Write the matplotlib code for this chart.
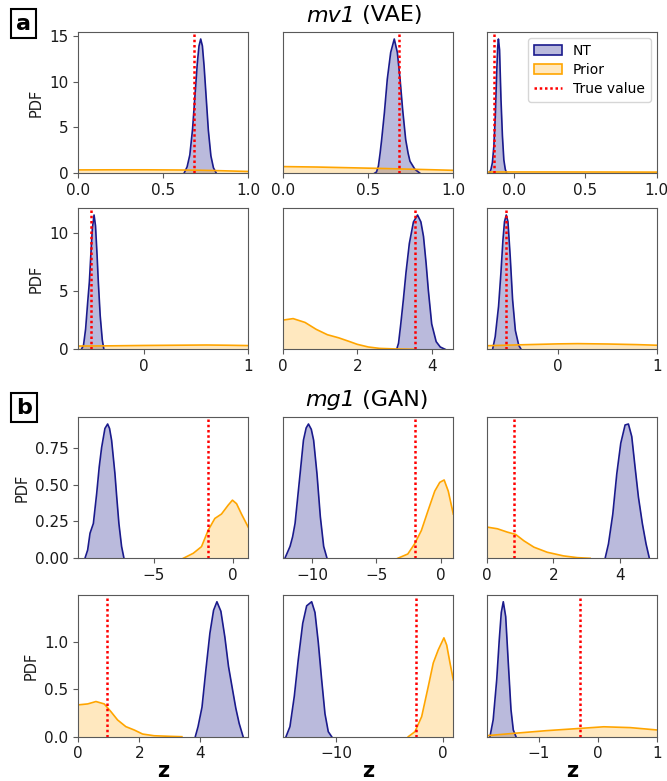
import matplotlib
matplotlib.use("Agg")
import matplotlib.pyplot as plt
from matplotlib.patches import Patch
from matplotlib.lines import Line2D

# ---------------------------------------------------------------------------
# Posterior (NT) and prior densities of the latent variables z
# Panels are ordered row by row: top row z1..z3, bottom row z4..z6
# ---------------------------------------------------------------------------

# mv1 (VAE)
VAE_NT_Z = [
    [0.622, 0.64, 0.656, 0.672, 0.688, 0.70, 0.71, 0.72, 0.73, 0.74, 0.75, 0.765, 0.78, 0.795, 0.812],
    [0.538, 0.55, 0.561, 0.571, 0.58, 0.596, 0.613, 0.633, 0.654, 0.672, 0.688, 0.703, 0.721, 0.735, 0.746, 0.775, 0.805],
    [-0.172, -0.16, -0.15, -0.14, -0.13, -0.12, -0.113, -0.108, -0.10, -0.09, -0.08, -0.07, -0.06, -0.05],
    [-0.60, -0.58, -0.56, -0.54, -0.524, -0.51, -0.495, -0.479, -0.465, -0.45, -0.438, -0.42, -0.40, -0.385],
    [3.06, 3.11, 3.17, 3.24, 3.31, 3.40, 3.51, 3.62, 3.71, 3.78, 3.85, 3.91, 4.00, 4.12, 4.23, 4.36],
    [-0.66, -0.634, -0.60, -0.576, -0.556, -0.54, -0.522, -0.505, -0.482, -0.458, -0.43, -0.396, -0.372],
]
VAE_NT_PDF = [
    [0.0, 0.7, 2.0, 4.8, 8.9, 12.0, 13.9, 14.66, 13.9, 11.7, 8.9, 4.7, 1.9, 0.6, 0.0],
    [0.0, 0.09, 0.49, 1.35, 2.25, 4.05, 6.3, 8.1, 9.0, 8.1, 6.3, 4.28, 2.25, 1.35, 0.81, 0.27, 0.0],
    [0.0, 0.75, 2.0, 5.0, 10.5, 18.75, 23.5, 25.0, 23.0, 13.75, 7.0, 2.5, 0.75, 0.0],
    [0.0, 0.35, 1.74, 4.05, 5.79, 8.1, 10.41, 11.57, 10.64, 8.1, 5.79, 2.89, 0.81, 0.0],
    [0.0, 0.08, 0.33, 0.65, 1.0, 1.38, 1.66, 1.75, 1.66, 1.47, 1.12, 0.77, 0.33, 0.1, 0.03, 0.0],
    [0.0, 1.02, 3.49, 6.21, 8.83, 10.36, 10.9, 10.36, 7.52, 4.03, 1.53, 0.33, 0.0],
]
VAE_PRIOR_Z = [
    [0.0, 0.2, 0.4, 0.6, 0.7, 0.8, 0.9, 1.0],
    [0.0, 0.2, 0.4, 0.6, 0.8, 1.0],
    [-0.19, 0.2, 0.6, 1.0],
    [-0.63, -0.3, 0.0, 0.3, 0.6, 0.8, 1.0],
    [0.0, 0.28, 0.6, 0.9, 1.2, 1.5, 1.8, 2.0, 2.3, 2.6, 3.0, 3.5],
    [-0.72, -0.4, 0.0, 0.2, 0.5, 0.8, 1.0],
]
VAE_PRIOR_PDF = [
    [0.37, 0.38, 0.38, 0.36, 0.34, 0.3, 0.25, 0.2],
    [0.45, 0.42, 0.37, 0.32, 0.26, 0.2],
    [0.25, 0.25, 0.24, 0.22],
    [0.28, 0.3, 0.33, 0.35, 0.37, 0.35, 0.32],
    [0.38, 0.40, 0.35, 0.26, 0.19, 0.15, 0.10, 0.065, 0.03, 0.012, 0.005, 0.0],
    [0.29, 0.36, 0.44, 0.46, 0.43, 0.38, 0.33],
]
VAE_TRUE = [0.682, 0.684, -0.138, -0.505, 3.56, -0.522]

# mg1 (GAN)
GAN_NT_Z = [
    [-9.35, -9.18, -9.03, -8.82, -8.61, -8.45, -8.30, -8.09, -7.92, -7.80, -7.67, -7.46, -7.35, -7.21, -7.04, -6.89],
    [-12.1, -11.70, -11.5, -11.31, -10.92, -10.66, -10.45, -10.27, -10.05, -9.87, -9.61, -9.35, -9.09, -8.83],
    [3.56, 3.66, 3.79, 3.91, 4.03, 4.16, 4.26, 4.36, 4.46, 4.56, 4.68, 4.79, 4.89],
    [3.84, 3.93, 4.06, 4.19, 4.32, 4.44, 4.55, 4.68, 4.81, 4.93, 5.06, 5.17, 5.28, 5.41],
    [-14.74, -14.37, -13.96, -13.59, -13.17, -12.80, -12.33, -12.02, -11.71, -11.39, -11.08, -10.77, -10.45],
    [-1.835, -1.78, -1.72, -1.676, -1.642, -1.608, -1.567, -1.523, -1.477, -1.438, -1.392],
]
GAN_NT_PDF = [
    [0.0, 0.056, 0.17, 0.236, 0.44, 0.62, 0.75, 0.88, 0.91, 0.88, 0.80, 0.574, 0.42, 0.236, 0.08, 0.0],
    [0.0, 0.069, 0.125, 0.203, 0.491, 0.686, 0.757, 0.78, 0.749, 0.686, 0.491, 0.242, 0.069, 0.0],
    [0.0, 0.15, 0.46, 0.88, 1.2, 1.39, 1.4, 1.27, 0.95, 0.64, 0.36, 0.15, 0.0],
    [0.0, 0.105, 0.31, 0.71, 1.09, 1.33, 1.42, 1.32, 1.05, 0.74, 0.50, 0.30, 0.14, 0.0],
    [0.0, 0.032, 0.129, 0.245, 0.361, 0.417, 0.43, 0.396, 0.301, 0.181, 0.073, 0.016, 0.0],
    [0.0, 0.61, 2.06, 3.53, 4.51, 4.9, 4.36, 2.68, 0.98, 0.245, 0.0],
]
GAN_PRIOR_Z = [
    [-3.15, -2.52, -2.0, -1.58, -1.16, -0.74, -0.32, -0.05, 0.21, 0.52, 0.95, 1.2],
    [-3.34, -2.56, -2.04, -1.51, -0.99, -0.47, -0.08, 0.26, 0.58, 0.97],
    [0.0, 0.32, 0.62, 0.87, 1.12, 1.42, 1.82, 2.31, 2.72, 3.11],
    [0.0, 0.31, 0.58, 0.85, 1.07, 1.29, 1.56, 1.84, 2.11, 2.49, 3.0, 3.4],
    [-3.26, -2.63, -2.0, -1.38, -0.91, -0.44, 0.09, 0.35, 0.66, 0.97],
    [-1.89, -1.44, -0.87, -0.31, 0.1, 0.55, 1.0],
]
GAN_PRIOR_PDF = [
    [0.0, 0.034, 0.079, 0.19, 0.27, 0.30, 0.36, 0.394, 0.37, 0.30, 0.21, 0.17],
    [0.0, 0.025, 0.083, 0.161, 0.277, 0.39, 0.441, 0.455, 0.39, 0.257],
    [0.326, 0.308, 0.273, 0.249, 0.182, 0.116, 0.063, 0.025, 0.007, 0.0],
    [0.335, 0.345, 0.37, 0.345, 0.264, 0.176, 0.106, 0.07, 0.028, 0.01, 0.004, 0.0],
    [0.0, 0.016, 0.064, 0.16, 0.235, 0.277, 0.315, 0.292, 0.235, 0.181],
    [0.037, 0.12, 0.22, 0.30, 0.36, 0.33, 0.245],
]
GAN_TRUE = [-1.62, -2.04, 0.82, 0.93, -2.56, -0.31]

# Axis ranges and ticks
VAE_XLIM = [(0, 1), (0, 1), (-0.19, 0.99), (-0.63, 1.0), (0, 4.58), (-0.72, 1.0)]
GAN_XLIM = [(-9.77, 0.95), (-12.27, 0.97), (0, 5.11), (0, 5.58), (-15.05, 0.97), (-1.89, 1.0)]
VAE_XTICKS = [[0, 0.5, 1.0], [0, 0.5, 1.0], [0, 0.5, 1.0], [0, 1], [0, 2, 4], [0, 1]]
GAN_XTICKS = [[-5, 0], [-10, -5, 0], [0, 2, 4], [0, 2, 4], [-10, 0], [-1, 0, 1]]
VAE_YTICKS = [[0, 5, 10, 15], [0, 5, 10]]
GAN_YTICKS = [[0, 0.25, 0.5, 0.75], [0, 0.5, 1.0]]

NT_EDGE = "#1a1a8c"
NT_FILL = "#000080"
PRIOR_C = "orange"
NT_ALPHA = 0.27
PRIOR_ALPHA = 0.25

plt.rcParams["font.family"] = ["DejaVu Sans"]
plt.rcParams["axes.edgecolor"] = "0.35"
plt.rcParams["xtick.color"] = "0.35"
plt.rcParams["ytick.color"] = "0.35"
plt.rcParams["xtick.labelcolor"] = "0.1"
plt.rcParams["ytick.labelcolor"] = "0.1"

W, H = 667, 781
fig = plt.figure(figsize=(W / 100, H / 100), dpi=100)

col_x = [(78.3, 248.3), (282.7, 453.3), (486.7, 656.7)]
row_y = [(32.3, 173.3), (208.3, 349.3), (417.3, 558.3), (595.0, 736.7)]


def make_ax(r, c):
    x0, x1 = col_x[c]
    y0, y1 = row_y[r]
    return fig.add_axes([x0 / W, 1 - y1 / H, (x1 - x0) / W, (y1 - y0) / H])


def draw_panel(ax, nz, npdf, pz, ppdf, tv, xlim, xticks):
    ax.fill_between(nz, npdf, 0, color=NT_FILL, alpha=NT_ALPHA, linewidth=0)
    ax.plot(nz, npdf, color=NT_EDGE, lw=1.2)
    ax.fill_between(pz, ppdf, 0, color=PRIOR_C, alpha=PRIOR_ALPHA, linewidth=0)
    ax.plot(pz, ppdf, color=PRIOR_C, lw=1.2)
    ax.axvline(tv, color="red", lw=1.8, linestyle=(0, (1, 1.1)))
    ax.set_xlim(*xlim)
    ax.set_ylim(0, 1.05 * max(max(npdf), max(ppdf)))
    ax.set_xticks(xticks)
    ax.tick_params(labelsize=11, length=3.5)


groups = [
    (0, VAE_NT_Z, VAE_NT_PDF, VAE_PRIOR_Z, VAE_PRIOR_PDF, VAE_TRUE, VAE_XLIM, VAE_XTICKS, VAE_YTICKS),
    (2, GAN_NT_Z, GAN_NT_PDF, GAN_PRIOR_Z, GAN_PRIOR_PDF, GAN_TRUE, GAN_XLIM, GAN_XTICKS, GAN_YTICKS),
]

legend_ax = None
for r0, nz, npdf, pz, ppdf, tv, xl, xt, yt in groups:
    for i in range(6):
        r, c = r0 + i // 3, i % 3
        ax = make_ax(r, c)
        draw_panel(ax, nz[i], npdf[i], pz[i], ppdf[i], tv[i], xl[i], xt[i])
        if c == 0:
            ax.set_yticks(yt[i // 3])
            ax.set_ylabel("PDF", fontsize=10.5, color="0.1")
        else:
            ax.set_yticks([])
        if r == 3:
            ax.set_xlabel("z", fontsize=15, fontweight="bold", labelpad=0)
        if r == 0 and c == 2:
            legend_ax = ax

handles = [
    Patch(facecolor=(0, 0, 0.5, NT_ALPHA), edgecolor=NT_EDGE, lw=1.2, label="NT"),
    Patch(facecolor=(1, 0.647, 0, PRIOR_ALPHA), edgecolor=PRIOR_C, lw=1.2, label="Prior"),
    Line2D([], [], color="red", lw=1.8, linestyle=(0, (1, 1.1)), label="True value"),
]
legend_ax.legend(handles=handles, loc="upper right", fontsize=10, frameon=True, fancybox=True,
                 borderpad=0.45, labelspacing=0.35, handlelength=2.0,
                 borderaxespad=0.4)

# Group titles: italic model name followed by the model type
for name, kind, yc in [("mv1", " (VAE)", 15.5), ("mg1", " (GAN)", 400.5)]:
    fig.text(355 / W, 1 - yc / H, name, ha="right", va="center", fontsize=16, style="italic")
    fig.text(355 / W, 1 - yc / H, kind, ha="left", va="center", fontsize=16)

# Panel letters in boxes
for letter, yc in [("a", 23.5), ("b", 407.5)]:
    fig.text(23.8 / W, 1 - yc / H, letter, ha="center", va="center", fontsize=16,
             fontweight="bold",
             bbox=dict(boxstyle="square,pad=0.22", facecolor="white", edgecolor="black", lw=1.5))

fig.savefig("out.png", dpi=100)
